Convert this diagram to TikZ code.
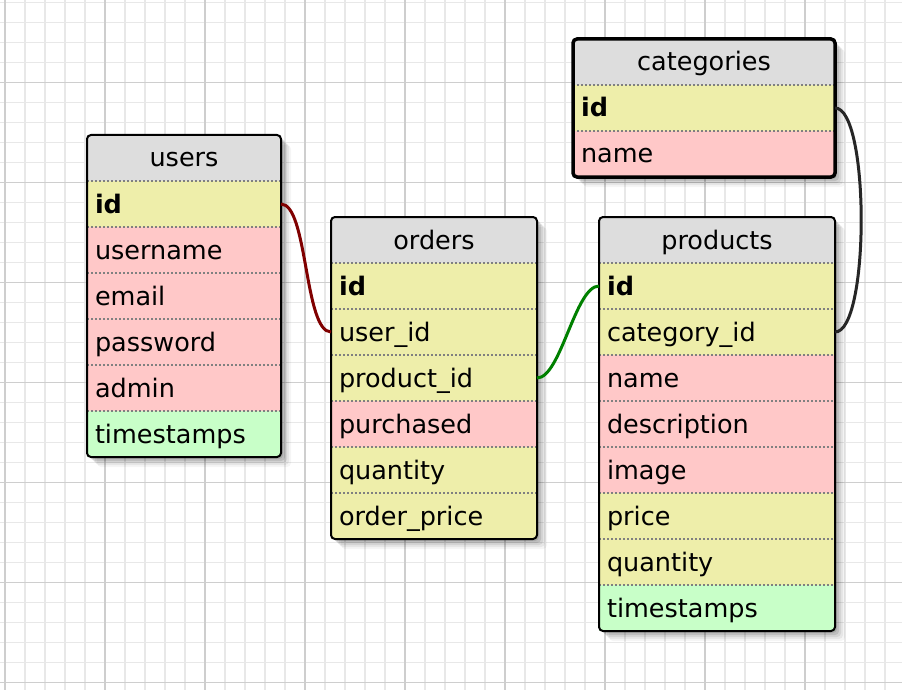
\documentclass[tikz,border=0pt]{standalone}
\usepackage{fontspec}
\setmainfont{DejaVu Sans}
\usetikzlibrary{positioning, fit, backgrounds, shadows}
\definecolor{headgray}{RGB}{221,221,221}
\definecolor{keyyellow}{RGB}{238,238,170}
\definecolor{plainpink}{RGB}{255,200,200}
\definecolor{stampgreen}{RGB}{200,255,200}
\definecolor{gridminor}{RGB}{232,232,232}
\definecolor{gridmajor}{RGB}{206,206,206}
\definecolor{linkred}{RGB}{128,0,0}
\definecolor{linkgreen}{RGB}{0,128,0}
\newcommand{\erdfont}{\fontsize{25.5}{30}\selectfont}

\begin{document}
\begin{tikzpicture}[
    x=1pt, y=-1pt,
    node distance=0pt,
    cell/.style={rectangle, inner xsep=8pt, inner ysep=0pt, outer sep=0pt, minimum height=46pt, text height=23pt, text depth=5pt, align=left, font=\erdfont},
    hd/.style={cell, fill=headgray, align=center},
    pk/.style={cell, fill=keyyellow, font=\erdfont\bfseries},
    fk/.style={cell, fill=keyyellow},
    txt/.style={cell, fill=plainpink},
    ts/.style={cell, fill=stampgreen},
    rowline/.style={draw=black!50, line width=1.6pt, dash pattern=on 2pt off 2pt},
    tablebox/.style={rectangle, rounded corners=4pt, draw=black, line width=2pt, inner sep=0pt},
    shadowbox/.style={rectangle, rounded corners=4pt, inner sep=0pt, fill=white,
        drop shadow={shadow xshift=2pt, shadow yshift=-2pt, opacity=.10, fill=black},
        drop shadow={shadow xshift=4pt, shadow yshift=-4pt, opacity=.10, fill=black},
        drop shadow={shadow xshift=6pt, shadow yshift=-6pt, opacity=.08, fill=black},
        drop shadow={shadow xshift=8pt, shadow yshift=-8pt, opacity=.06, fill=black},
        drop shadow={shadow xshift=10pt, shadow yshift=-10pt, opacity=.04, fill=black}},
    link/.style={line width=3pt}
]
\useasboundingbox (0,0) rectangle (902,690);

% grid paper
\begin{scope}[on background layer]
\fill[white] (0,0) rectangle (902,690);
\foreach \x in {5,25,...,885} \draw[gridminor, line width=1.5pt] (\x,0) -- (\x,690);
\foreach \y in {2.5,22.5,...,682.5} \draw[gridminor, line width=1.5pt] (0,\y) -- (902,\y);
\foreach \x in {5,105,...,805} \draw[gridmajor, line width=1.8pt] (\x,0) -- (\x,690);
\foreach \y in {82.5,182.5,...,682.5} \draw[gridmajor, line width=1.8pt] (0,\y) -- (902,\y);
\end{scope}

% users
\begin{scope}[every node/.append style={text width=178pt}]
\node[hd, anchor=north west] (users) at (87,135) {users};
\node[pk, below=of users] (uid) {id};
\node[txt, below=of uid] (uname) {username};
\node[txt, below=of uname] (umail) {email};
\node[txt, below=of umail] (upass) {password};
\node[txt, below=of upass] (uadmin) {admin};
\node[ts, below=of uadmin] (uts) {timestamps};
\end{scope}

% orders
\begin{scope}[every node/.append style={text width=190pt}]
\node[hd, anchor=north west] (orders) at (331,217) {orders};
\node[pk, below=of orders] (oid) {id};
\node[fk, below=of oid] (ouser) {user\_id};
\node[fk, below=of ouser] (oprod) {product\_id};
\node[txt, below=of oprod] (obuy) {purchased};
\node[fk, below=of obuy] (oqty) {quantity};
\node[fk, below=of oqty] (oprice) {order\_price};
\end{scope}

% products
\begin{scope}[every node/.append style={text width=220pt}]
\node[hd, anchor=north west] (products) at (599,217) {products};
\node[pk, below=of products] (pid) {id};
\node[fk, below=of pid] (pcat) {category\_id};
\node[txt, below=of pcat] (pname) {name};
\node[txt, below=of pname] (pdesc) {description};
\node[txt, below=of pdesc] (pimg) {image};
\node[fk, below=of pimg] (pprice) {price};
\node[fk, below=of pprice] (pqty) {quantity};
\node[ts, below=of pqty] (pts) {timestamps};
\end{scope}

% categories
\begin{scope}[every node/.append style={text width=246pt}]
\node[hd, anchor=north west] (categories) at (573,39) {categories};
\node[pk, below=of categories] (cid) {id};
\node[txt, below=of cid] (cname) {name};
\end{scope}

\foreach \r in {uid,uname,umail,upass,uadmin,uts,oid,ouser,oprod,obuy,oqty,oprice,pid,pcat,pname,pdesc,pimg,pprice,pqty,pts,cid,cname}
    \draw[rowline] (\r.north west) -- (\r.north east);

\begin{scope}[on background layer]
\node[shadowbox, fit=(users)(uts)] (usersshadow) {};
\node[shadowbox, fit=(orders)(oprice)] (ordersshadow) {};
\node[shadowbox, fit=(products)(pts)] (productsshadow) {};
\node[shadowbox, fit=(categories)(cname)] (categoriesshadow) {};
\end{scope}
\node[tablebox, fit=(users)(uts)] (usersbox) {};
\node[tablebox, fit=(orders)(oprice)] (ordersbox) {};
\node[tablebox, fit=(products)(pts)] (productsbox) {};
\node[tablebox, line width=3.5pt, fit=(categories)(cname)] (categoriesbox) {};

% relations
\draw[link, linkred] (uid.east) to[out=0, in=180, looseness=0.5] (ouser.west);
\draw[link, linkgreen] (oprod.east) to[out=0, in=180, looseness=0.55] (pid.west);
\draw[link, black!85] (cid.east) to[out=0, in=0, looseness=0.4] (pcat.east);
\end{tikzpicture}
\end{document}
